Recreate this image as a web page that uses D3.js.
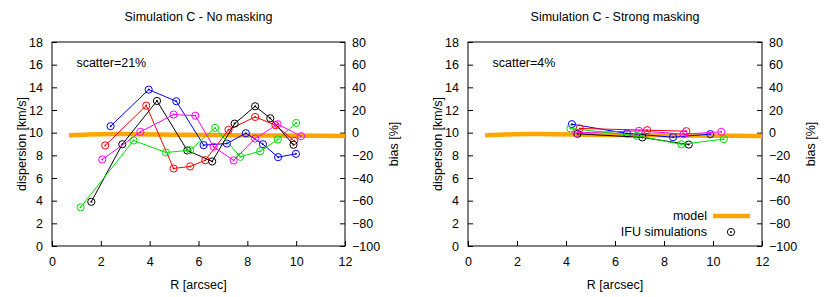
<!DOCTYPE html>
<html>
<head>
<meta charset="utf-8">
<script src="https://cdn.jsdelivr.net/npm/d3@7"></script>
<style>
  body { margin: 0; background: #fff; }
  svg { font-family: "Liberation Sans", Arial, sans-serif; font-size: 12.5px; }
  .tick text { font-size: 12.5px; fill: #000; }
</style>
</head>
<body>
<div id="chart"></div>
<script>
// model curve (same in both panels)
const modelR = [0.7, 1.5, 2.5, 3.5, 5, 7, 9, 11, 12];
const modelDisp = [9.75, 9.83, 9.88, 9.87, 9.82, 9.78, 9.75, 9.72, 9.7];

// IFU simulations, no masking: [R, dispersion]
const noMaskBlue    = [[2.40,10.57],[3.96,13.8],[5.09,12.77],[6.21,8.9],[7.16,9.04],[7.94,9.95],[8.64,8.98],[9.26,7.84],[9.99,8.13]];
const noMaskRed     = [[2.18,8.87],[3.86,12.39],[4.98,6.84],[5.66,7.02],[6.28,7.57],[7.23,10.25],[8.32,11.39],[9.15,10.66],[9.92,9.28]];
const noMaskBlack   = [[1.61,3.9],[2.88,8.98],[4.30,12.8],[5.54,8.43],[6.56,7.46],[7.48,10.8],[8.32,12.33],[8.94,11.27],[9.89,8.93]];
const noMaskMagenta = [[2.06,7.63],[3.62,10.07],[4.98,11.6],[5.87,11.5],[6.62,8.75],[7.44,7.55],[8.32,9.48],[9.24,10.75],[10.2,9.69]];
const noMaskGreen   = [[1.17,3.41],[3.34,9.31],[4.67,8.25],[5.66,8.46],[6.68,10.42],[7.71,7.87],[8.53,8.37],[9.25,9.4],[10.0,10.86]];

// IFU simulations, strong masking
const maskBlue    = [[4.24,10.75],[6.49,9.93],[8.37,9.6],[9.89,9.87]];
const maskRed     = [[4.56,10.37],[7.31,10.22],[8.91,10.13]];
const maskBlack   = [[4.47,9.9],[7.12,9.58],[9.01,8.95]];
const maskMagenta = [[4.42,9.98],[6.98,10.16],[8.80,9.87],[10.34,10.07]];
const maskGreen   = [[4.18,10.37],[6.90,9.72],[8.71,8.97],[10.44,9.43]];

const seriesColors = ["#0000ff", "#ff0000", "#000000", "#ff00ff", "#00e000"];

const xTicks = [0, 2, 4, 6, 8, 10, 12];
const yTicks = [0, 2, 4, 6, 8, 10, 12, 14, 16, 18];
const y2Ticks = [-100, -80, -60, -40, -20, 0, 20, 40, 60, 80];

const panels = [
    { title: "Simulation C - No masking", scatter: "scatter=21%", left: 52, right: 345,
      series: [noMaskBlue, noMaskRed, noMaskBlack, noMaskMagenta, noMaskGreen], legend: false },
    { title: "Simulation C - Strong masking", scatter: "scatter=4%", left: 468, right: 762,
      series: [maskBlue, maskRed, maskBlack, maskMagenta, maskGreen], legend: true }
];

const width = 831;
const height = 297;
const plotTop = 42, plotBottom = 246;

const svg = d3.select("#chart")
    .append("svg")
    .attr("width", width)
    .attr("height", height);

function drawMarker(g, x, y, color) {
    g.append("circle").attr("cx", x).attr("cy", y).attr("r", 3.6)
        .attr("fill", "none").attr("stroke", color).attr("stroke-width", 1);
    g.append("circle").attr("cx", x).attr("cy", y).attr("r", 1)
        .attr("fill", color);
}

panels.forEach(p => {
    const xScale = d3.scaleLinear().domain([0, 12]).range([p.left, p.right]);
    const yScale = d3.scaleLinear().domain([0, 18]).range([plotBottom, plotTop]);
    const y2Scale = d3.scaleLinear().domain([-100, 80]).range([plotBottom, plotTop]);
    const cx = (p.left + p.right) / 2;

    const g = svg.append("g");

    // axes, gnuplot style: ticks point inwards
    g.append("g")
        .attr("transform", `translate(0,${plotBottom})`)
        .call(d3.axisBottom(xScale).tickValues(xTicks).tickSizeInner(-5).tickSizeOuter(0).tickPadding(11))
        .call(a => a.select(".domain").remove());

    g.append("g")
        .attr("transform", `translate(${p.left},0)`)
        .call(d3.axisLeft(yScale).tickValues(yTicks).tickSizeInner(-5).tickSizeOuter(0).tickPadding(9))
        .call(a => a.select(".domain").remove());

    g.append("g")
        .attr("transform", `translate(${p.right},0)`)
        .call(d3.axisRight(y2Scale).tickValues(y2Ticks).tickSizeInner(-5).tickSizeOuter(0).tickPadding(7))
        .call(a => a.select(".domain").remove());

    g.selectAll(".tick line").attr("stroke", "#000");

    // frame
    g.append("rect")
        .attr("x", p.left).attr("y", plotTop)
        .attr("width", p.right - p.left).attr("height", plotBottom - plotTop)
        .attr("fill", "none").attr("stroke", "#000").attr("stroke-width", 1);

    // titles and labels
    g.append("text").attr("x", cx).attr("y", 21).attr("text-anchor", "middle").text(p.title);
    g.append("text").attr("x", cx).attr("y", 289).attr("text-anchor", "middle").text("R [arcsec]");
    g.append("text")
        .attr("transform", `translate(${p.left - 26},${(plotTop + plotBottom) / 2}) rotate(-90)`)
        .attr("text-anchor", "middle").text("dispersion [km/s]");
    g.append("text")
        .attr("transform", `translate(${p.right + 53},${(plotTop + plotBottom) / 2}) rotate(-90)`)
        .attr("text-anchor", "middle").text("bias [%]");
    g.append("text").attr("x", xScale(1)).attr("y", 67).text(p.scatter);

    // model
    const modelLine = d3.line()
        .x(d => xScale(d[0]))
        .y(d => yScale(d[1]))
        .curve(d3.curveMonotoneX);
    g.append("path")
        .datum(modelR.map((r, i) => [r, modelDisp[i]]))
        .attr("d", modelLine)
        .attr("fill", "none")
        .attr("stroke", "#ffa500")
        .attr("stroke-width", 4.5);

    // simulations
    const simLine = d3.line().x(d => xScale(d[0])).y(d => yScale(d[1]));
    p.series.forEach((s, i) => {
        const color = seriesColors[i];
        g.append("path")
            .datum(s)
            .attr("d", simLine)
            .attr("fill", "none")
            .attr("stroke", color)
            .attr("stroke-width", 1);
        s.forEach(d => drawMarker(g, xScale(d[0]), yScale(d[1]), color));
    });

    if (p.legend) {
        g.append("text").attr("x", 707).attr("y", 220).attr("text-anchor", "end").text("model");
        g.append("line").attr("x1", 713).attr("x2", 750).attr("y1", 216).attr("y2", 216)
            .attr("stroke", "#ffa500").attr("stroke-width", 4.5);
        g.append("text").attr("x", 707).attr("y", 236).attr("text-anchor", "end").text("IFU simulations");
        drawMarker(g, 731, 232, "#000");
    }
});
</script>
</body>
</html>
